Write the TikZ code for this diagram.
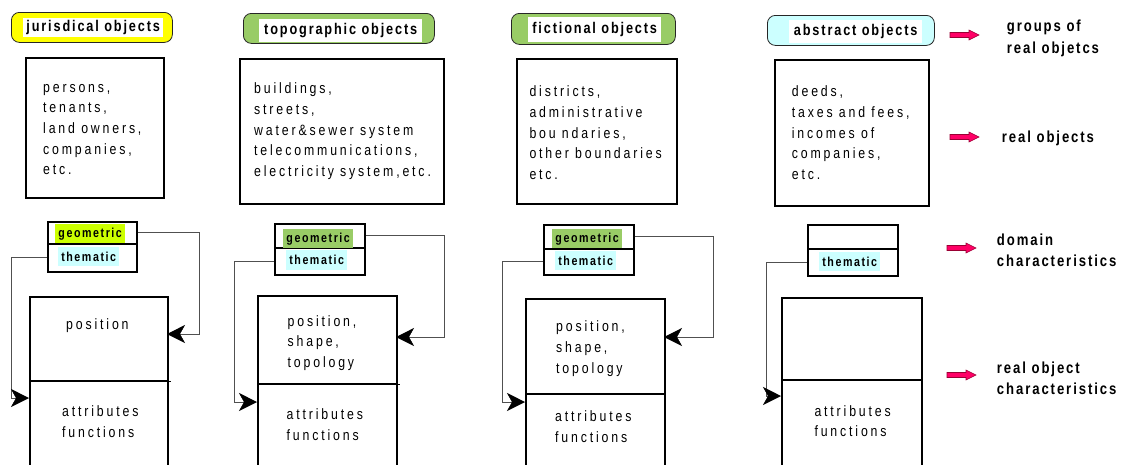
\documentclass[tikz,border=0pt]{standalone}
\usepackage{fontspec}
\setmainfont{Liberation Sans}[FakeStretch=0.82]
\newfontfamily\bodyf{Liberation Sans}[FakeStretch=0.82,LetterSpace=19]
\newfontfamily\boldf{Liberation Sans}[FakeStretch=0.82,LetterSpace=12]
\usetikzlibrary{arrows.meta}
\definecolor{ylw}{HTML}{FFFF00}
\definecolor{grn}{HTML}{99CC66}
\definecolor{cyn}{HTML}{CCFFFF}
\definecolor{lime}{HTML}{CCFF00}
\definecolor{pnk}{HTML}{FF0066}
\definecolor{pnkd}{HTML}{990033}
\definecolor{conncol}{HTML}{505050}
\newcommand\legarrow[2]{%
  \draw[legarr] (#1,#2-2.5) -- (#1+19,#2-2.5) -- (#1+19,#2-5) -- (#1+29,#2)
    -- (#1+19,#2+5) -- (#1+19,#2+2.5) -- (#1,#2+2.5) -- cycle;}
\begin{document}
\begin{tikzpicture}[x=1pt,y=-1pt,
  box/.style={draw=black, line width=1.6pt, inner sep=0pt, anchor=north west},
  pill/.style={draw=black!85, line width=0.8pt, rounded corners=8pt, inner sep=0pt, anchor=north west},
  lbl/.style={fill=white, inner sep=0pt, anchor=north west, font=\boldf\bfseries\fontsize{15.5}{18}\selectfont},
  hl/.style={inner sep=0pt, anchor=north west, font=\boldf\bfseries\fontsize{13}{15}\selectfont},
  txt/.style={inner sep=0pt, anchor=north west, align=left, font=\bodyf\fontsize{15}{20.7}\selectfont},
  leg/.style={inner sep=0pt, anchor=north west, align=left, font=\boldf\bfseries\fontsize{16}{20.5}\selectfont},
  conn/.style={draw=conncol, line width=1pt, -{Stealth[length=18pt,width=18pt,inset=5pt,color=black,line width=0.5pt]}},
  legarr/.style={fill=pnk, draw=pnkd, line width=0.6pt}]
\useasboundingbox (0,0) rectangle (1127,464);
\clip (0,0) rectangle (1127,464);

% ---------- column 1 ----------
\node[pill, fill=ylw, minimum width=161pt, minimum height=30pt] (p1) at (11,12) {};
\node[lbl, minimum width=140pt, minimum height=19pt] (pl1) at (23,18) {jurisdical objects};
\node[box, minimum width=138pt, minimum height=140pt] (o1) at (25,57) {};
\node[txt] (ot1) at (43,77.5) {\strut persons,\\tenants,\\land owners,\\companies,\\etc.};
\node[box, minimum width=89pt, minimum height=22pt] (g1) at (47,221) {};
\node[box, minimum width=89pt, minimum height=28pt] (t1) at (47,243) {};
\node[hl, fill=lime, minimum width=70pt, minimum height=19pt] (gh1) at (55,224) {geometric};
\node[hl, fill=cyn, minimum width=61pt, minimum height=19pt] (th1) at (58,247) {thematic};
\node[box, minimum width=138pt, minimum height=84pt] (u1) at (29,296) {};
\node[box, minimum width=138pt, minimum height=110pt] (l1) at (29,380) {};
\draw[line width=1.6pt] (u1.south east) -- ++(2,0);
\node[txt] (pt1) at (66,314.8) {\strut position};
\node[txt] (at1) at (62,402) {\strut attributes\\functions};
\coordinate (e1) at (167,334);
\coordinate (w1) at (29,398);
\draw[conn] (g1.east) -- ++(62,0) |- (e1);
\draw[conn] (t1.west) -- ++(-36,0) |- (w1);

% ---------- column 2 ----------
\node[pill, fill=grn, minimum width=191pt, minimum height=30pt] (p2) at (243,13) {};
\node[lbl, minimum width=163pt, minimum height=23pt] (pl2) at (259,19) {topographic objects};
\node[box, minimum width=204pt, minimum height=145pt] (o2) at (239,58) {};
\node[txt] (ot2) at (254,79) {\strut buildings,\\streets,\\water\&sewer system\\telecommunications,\\electricity system,etc.};
\node[box, minimum width=90pt, minimum height=24pt] (g2) at (274,223) {};
\node[box, minimum width=90pt, minimum height=27pt] (t2) at (274,247) {};
\node[hl, fill=grn, minimum width=70pt, minimum height=19pt] (gh2) at (283,229) {geometric};
\node[hl, fill=cyn, minimum width=61pt, minimum height=20pt] (th2) at (286,250) {thematic};
\node[box, minimum width=139pt, minimum height=88pt] (u2) at (257,295) {};
\node[box, minimum width=139pt, minimum height=110pt] (l2) at (257,383) {};
\draw[line width=1.6pt] (u2.south east) -- ++(2,0);
\node[txt] (pt2) at (287.5,311.5) {\strut position,\\shape,\\topology};
\node[txt] (at2) at (286.5,405) {\strut attributes\\functions};
\coordinate (e2) at (396,337);
\coordinate (w2) at (257,402);
\draw[conn] (g2.east) -- ++(79,0) |- (e2);
\draw[conn] (t2.west) -- ++(-40,0) |- (w2);

% ---------- column 3 ----------
\node[pill, fill=grn, minimum width=164pt, minimum height=31pt] (p3) at (511,13) {};
\node[lbl, minimum width=133pt, minimum height=25pt] (pl3) at (528,17) {fictional objects};
\node[box, minimum width=160pt, minimum height=145pt] (o3) at (516,58) {};
\node[txt] (ot3) at (529.3,82) {\strut districts,\\administrative\\bou ndaries,\\other boundaries\\etc.};
\node[box, minimum width=90pt, minimum height=24pt] (g3) at (543,224) {};
\node[box, minimum width=90pt, minimum height=26pt] (t3) at (543,248) {};
\node[hl, fill=grn, minimum width=70pt, minimum height=19pt] (gh3) at (552,229) {geometric};
\node[hl, fill=cyn, minimum width=61pt, minimum height=19pt] (th3) at (555,251) {thematic};
\node[box, minimum width=139pt, minimum height=95pt] (u3) at (525,298) {};
\node[box, minimum width=139pt, minimum height=100pt] (l3) at (525,393) {};
\node[txt] (pt3) at (556,317) {\strut position,\\shape,\\topology};
\node[txt] (at3) at (555,407) {\strut attributes\\functions};
\coordinate (e3) at (664,337);
\coordinate (w3) at (525,402);
\draw[conn] (g3.east) -- ++(79,0) |- (e3);
\draw[conn] (t3.west) -- ++(-41,0) |- (w3);

% ---------- column 4 ----------
\node[pill, fill=cyn, minimum width=167pt, minimum height=30pt] (p4) at (767,15) {};
\node[lbl, minimum width=133pt, minimum height=23pt] (pl4) at (789,20) {abstract objects};
\node[box, minimum width=154pt, minimum height=146pt] (o4) at (774,59) {};
\node[txt] (ot4) at (791.7,82) {\strut deeds,\\taxes and fees,\\incomes of\\companies,\\etc.};
\node[box, minimum width=90pt, minimum height=24pt] (g4) at (807,224) {};
\node[box, minimum width=90pt, minimum height=27pt] (t4) at (807,248) {};
\node[hl, fill=cyn, minimum width=61pt, minimum height=19pt] (th4) at (819,252) {thematic};
\node[box, minimum width=140pt, minimum height=82pt] (u4) at (781,297) {};
\node[box, minimum width=140pt, minimum height=110pt] (l4) at (781,379) {};
\node[txt] (at4) at (814.3,401.5) {\strut attributes\\functions};
\coordinate (w4) at (781,396);
\draw[conn] (t4.west) -- ++(-41,0) |- (w4);

% ---------- legend ----------
\legarrow{950}{35}
\legarrow{950}{137}
\legarrow{947}{248}
\legarrow{947}{375}
\node[leg, font=\boldf\bfseries\fontsize{16}{22}\selectfont] (lg1) at (1006.7,16) {\strut groups of\\real objetcs};
\node[leg] (lg2) at (1001.7,128.4) {\strut real objects};
\node[leg] (lg3) at (996.7,231.4) {\strut domain\\characteristics};
\node[leg] (lg4) at (996.7,359) {\strut real object\\characteristics};
\end{tikzpicture}
\end{document}
